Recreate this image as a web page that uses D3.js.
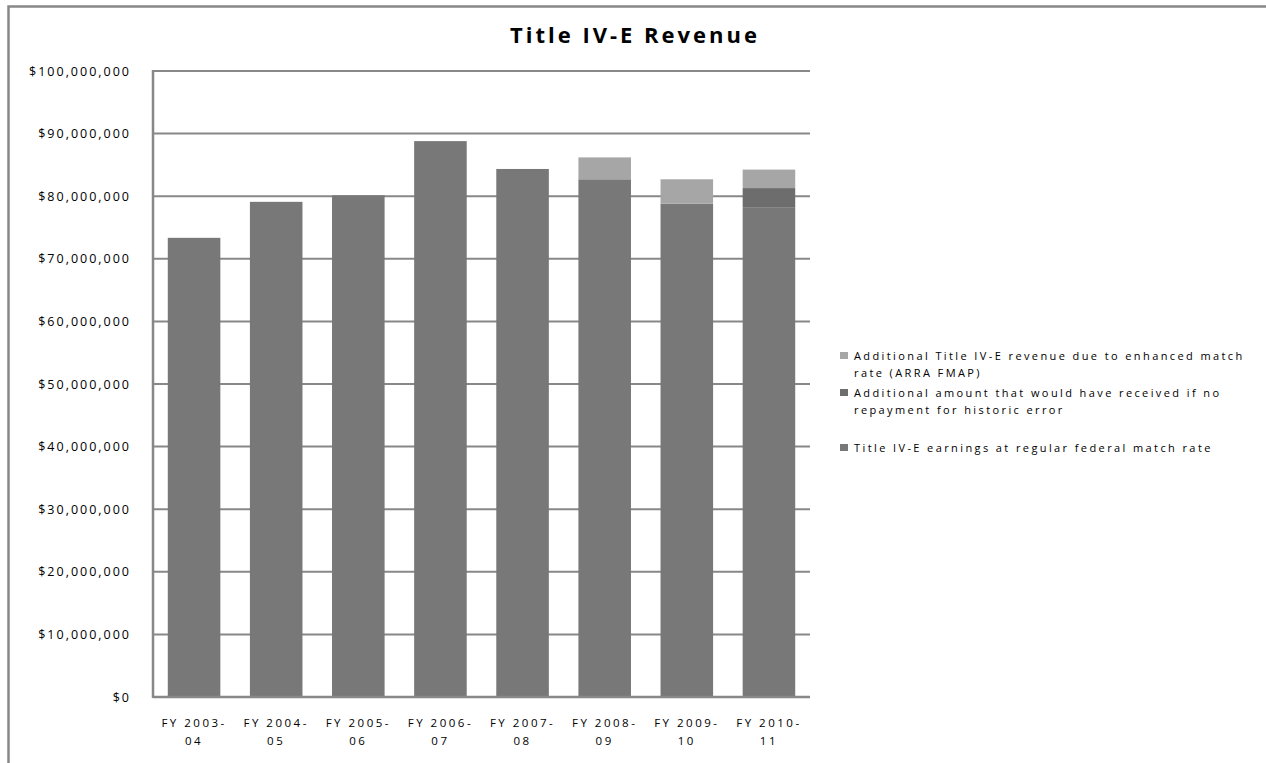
<!DOCTYPE html>
<html>
<head>
<meta charset="utf-8">
<script src="https://cdn.jsdelivr.net/npm/d3@7"></script>
<style>
  html, body { margin: 0; padding: 0; background: #fff; }
  svg { display: block; }
  text { font-family: "Open Sans", "DejaVu Sans", sans-serif; fill: #000; }
</style>
</head>
<body>
<svg id="chart" width="1266" height="763"></svg>
<script>
// Fiscal years shown along the x axis
const categories = ["FY 2003-04", "FY 2004-05", "FY 2005-06", "FY 2006-07",
                    "FY 2007-08", "FY 2008-09", "FY 2009-10", "FY 2010-11"];

// Title IV-E earnings at the regular federal match rate (dollars)
const regularMatch = [73350000, 79100000, 80150000, 88800000,
                      84350000, 82700000, 78800000, 78250000];

// Amount that would have been received with no repayment for the historic error
const repaymentGap = [0, 0, 0, 0, 0, 0, 0, 3050000];

// Extra revenue from the enhanced ARRA FMAP match rate
const arraExtra = [0, 0, 0, 0, 0, 3500000, 3900000, 2950000];

// Y axis tick values
const yTicks = [0, 10000000, 20000000, 30000000, 40000000, 50000000,
                60000000, 70000000, 80000000, 90000000, 100000000];

const seriesNames = [
  "Title IV-E earnings at regular federal match rate",
  "Additional amount that would have received if no repayment for historic error",
  "Additional Title IV-E revenue due to enhanced match rate (ARRA FMAP)"
];
const seriesColors = ["#787878", "#6d6d6d", "#a6a6a6"];

// Legend lines, top to bottom (last stacked series first)
const legendLines = [
  ["Additional Title IV-E revenue due to enhanced match", "rate (ARRA FMAP)"],
  ["Additional amount that would have received if no", "repayment for historic error"],
  ["Title IV-E earnings at regular federal match rate"]
];

const svg = d3.select("#chart");
const W = 1266, H = 763;
const plot = { left: 153, right: 810, top: 71, bottom: 697 };
const gridColor = "#888888";

// Outer chart frame (runs off the right and bottom edges)
svg.append("rect")
  .attr("x", 8.5).attr("y", 6.5)
  .attr("width", W + 20).attr("height", H + 20)
  .attr("fill", "none")
  .attr("stroke", gridColor)
  .attr("stroke-width", 2.5);

const x = d3.scaleBand()
  .domain(categories)
  .range([plot.left, plot.right])
  .paddingInner(0.36)
  .paddingOuter(0.18);

const y = d3.scaleLinear()
  .domain([0, 100000000])
  .range([plot.bottom, plot.top]);

// Horizontal gridlines
svg.append("g")
  .selectAll("line")
  .data(yTicks)
  .join("line")
  .attr("x1", plot.left).attr("x2", plot.right)
  .attr("y1", d => y(d)).attr("y2", d => y(d))
  .attr("stroke", gridColor)
  .attr("stroke-width", 2);

// Stacked bars
const rows = categories.map((c, i) => ({
  cat: c, s0: regularMatch[i], s1: repaymentGap[i], s2: arraExtra[i]
}));
const stack = d3.stack().keys(["s0", "s1", "s2"]);
const layers = stack(rows);

svg.append("g")
  .selectAll("g")
  .data(layers)
  .join("g")
  .attr("fill", (d, i) => seriesColors[i])
  .selectAll("rect")
  .data(d => d.filter(p => p[1] > p[0]))
  .join("rect")
  .attr("x", d => x(d.data.cat))
  .attr("width", x.bandwidth())
  .attr("y", d => y(d[1]))
  .attr("height", d => y(d[0]) - y(d[1]));

// Axis lines
svg.append("line")
  .attr("x1", plot.left).attr("x2", plot.left)
  .attr("y1", plot.top - 1).attr("y2", plot.bottom + 1)
  .attr("stroke", gridColor).attr("stroke-width", 2.5);
svg.append("line")
  .attr("x1", plot.left).attr("x2", plot.right)
  .attr("y1", plot.bottom).attr("y2", plot.bottom)
  .attr("stroke", gridColor).attr("stroke-width", 2.5);

// Y axis labels
const fmt = d3.format(",");
svg.append("g")
  .selectAll("text")
  .data(yTicks)
  .join("text")
  .attr("x", 131)
  .attr("y", d => y(d))
  .attr("dy", "0.36em")
  .attr("text-anchor", "end")
  .attr("font-size", 12.5)
  .attr("letter-spacing", 2.0)
  .text(d => "$" + fmt(d));

// X axis labels, wrapped after the hyphen
const xl = svg.append("g")
  .selectAll("text")
  .data(categories)
  .join("text")
  .attr("x", d => x(d) + x.bandwidth() / 2)
  .attr("y", 727)
  .attr("text-anchor", "middle")
  .attr("font-size", 11.5)
  .attr("letter-spacing", 2.5);
xl.append("tspan")
  .attr("x", d => x(d) + x.bandwidth() / 2)
  .text(d => d.slice(0, d.indexOf("-") + 1));
xl.append("tspan")
  .attr("x", d => x(d) + x.bandwidth() / 2)
  .attr("dy", 18)
  .text(d => d.slice(d.indexOf("-") + 1));

// Title
svg.append("text")
  .attr("x", 635)
  .attr("y", 43)
  .attr("text-anchor", "middle")
  .attr("font-size", 22)
  .attr("font-weight", "bold")
  .attr("letter-spacing", 3.0)
  .text("Title IV-E Revenue");

// Legend
const legendTop = [360, 397, 452];
const legendColors = [seriesColors[2], seriesColors[1], seriesColors[0]];
const lg = svg.append("g")
  .selectAll("g")
  .data(legendLines)
  .join("g");
lg.append("rect")
  .attr("x", 840)
  .attr("y", (d, i) => legendTop[i] - 8)
  .attr("width", 8).attr("height", 7)
  .attr("fill", (d, i) => legendColors[i]);
lg.each(function (lines, i) {
  const t = d3.select(this).append("text")
    .attr("x", 854)
    .attr("y", legendTop[i])
    .attr("font-size", 11)
    .attr("letter-spacing", 2.4);
  lines.forEach((ln, j) => {
    t.append("tspan")
      .attr("x", 854)
      .attr("dy", j === 0 ? 0 : 16.5)
      .text(ln);
  });
});
</script>
</body>
</html>
